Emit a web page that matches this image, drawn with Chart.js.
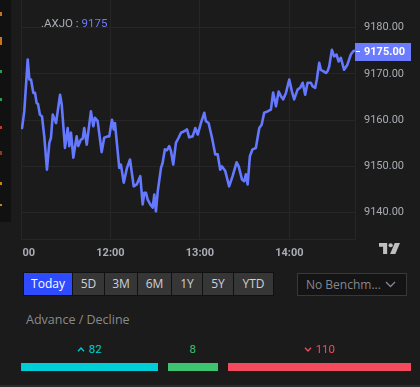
<!DOCTYPE html>
<html>
<head>
<meta charset="utf-8">
<script src="https://cdn.jsdelivr.net/npm/chart.js@4"></script>
<style>
  html, body { margin:0; padding:0; background:#1b1b1b; width:420px; height:387px; overflow:hidden; font-family:"Open Sans", Roboto, sans-serif; }
  #wrap { position:relative; width:420px; height:387px; }
  #cv { position:absolute; left:0; top:0; }
  .abs { position:absolute; }
  #strip { left:0; top:0; width:11px; height:222px; background:#111111; }
  .mk { position:absolute; left:0; width:2px; }
  #clipL { left:0; top:240px; width:22px; height:28px; background:#1b1b1b; }
  #title { left:41px; top:16px; font:11.5px Roboto, sans-serif; color:#a9acb4; white-space:nowrap; }
  #title span { color:#6b7cff; }
  #btns { left:23px; top:272px; height:24px; display:flex; background:#111; padding:1px; box-sizing:border-box; gap:1px; }
  #btns div { height:22px; line-height:22px; text-align:center; background:#363636; color:#cfd1d6; font-size:12px; }
  #btns div.on { background:#2f4bff; color:#fff; }
  #dd { left:297px; top:273px; width:110px; height:23px; border:1px solid #383838; background:#141414; box-sizing:border-box; color:#84878f; font-size:12px; line-height:21px; padding-left:8px; }
  #dd svg { position:absolute; right:10px; top:7px; }
  #adl { left:26px; top:311px; color:#8a8a8a; font-size:12.5px; }
  #bars { left:21px; top:342px; width:390px; display:flex; gap:10px; }
  .seg { display:flex; flex-direction:column; align-items:center; }
  .lab { height:14px; font:11.5px Roboto, sans-serif; line-height:14px; margin-bottom:7px; white-space:nowrap; display:flex; align-items:center; gap:4px; }
  .bar { height:8px; width:100%; }
  #logo { left:379px; top:243px; }
  #bot { left:0; top:385px; width:420px; height:2px; background:#2b2b2b; }
</style>
</head>
<body>
<div id="wrap">
  <canvas id="cv" width="420" height="270"></canvas>
  <div id="strip" class="abs">
    <div class="mk" style="top:12px;height:4px;background:#c8761a"></div>
    <div class="mk" style="top:37px;height:8px;background:#c8761a"></div>
    <div class="mk" style="top:70px;height:3px;background:#22a05a"></div>
    <div class="mk" style="top:98px;height:3px;background:#22a05a"></div>
    <div class="mk" style="top:126px;height:3px;background:#d0302f"></div>
    <div class="mk" style="top:151px;height:4px;background:#8a3a20"></div>
    <div class="mk" style="top:182px;height:3px;background:#c8861a"></div>
    <div class="mk" style="top:204px;height:2px;background:#c8861a"></div>
  </div>
  <div id="clipL" class="abs"></div>
  <div id="title" class="abs">.AXJO : <span id="tval"></span></div>
  <svg id="logo" class="abs" width="21" height="11" viewBox="0 0 36 20" preserveAspectRatio="none">
    <path d="M0 0h14v20H7V7H0z" fill="#bfbfbf"/>
    <circle cx="20" cy="4" r="3.6" fill="#bfbfbf"/>
    <path d="M27 0h9l-8 20h-9z" fill="#bfbfbf"/>
  </svg>
  <div id="btns" class="abs"></div>
  <div id="dd" class="abs">No Benchm...
    <svg width="11" height="7" viewBox="0 0 11 7"><polyline points="1,1 5.5,5.5 10,1" fill="none" stroke="#84878f" stroke-width="1.3"/></svg>
  </div>
  <div id="adl" class="abs">Advance / Decline</div>
  <div id="bars" class="abs"></div>
  <div id="bot" class="abs"></div>
</div>
<script>
// ---- data ----
const symbol = ".AXJO";
// minutes since midnight (11:00 = 660)
const times = [660.7, 662.2, 664.5, 665.6, 666.7, 668.3, 669.4, 670.5, 671.4, 672.7, 674.1, 675.6, 677.4, 679.0, 680.1, 681.3, 683.5, 686.2, 687.3, 689.5,
  691.3, 692.4, 693.5, 695.1, 697.3, 698.4, 700.2, 701.4, 702.4, 704.1, 706.9, 708.5, 709.6, 711.4, 714.1, 715.8, 718.1, 719.2, 721.0, 722.2,
  723.0, 725.9, 727.0, 728.9, 731.1, 733.1, 735.6, 737.6, 740.0, 741.6, 742.7, 743.8, 744.9, 746.7, 748.3, 749.4, 750.5, 751.7, 753.9, 755.0,
  756.5, 757.9, 759.4, 760.6, 762.1, 763.9, 765.7, 767.3, 769.5, 771.3, 772.8, 775.1, 776.9, 778.5, 780.7, 782.9, 784.0, 785.8, 788.1, 790.3,
  791.9, 793.6, 794.8, 797.0, 799.6, 801.9, 804.6, 806.0, 808.2, 809.7, 810.8, 812.0, 813.5, 815.3, 817.5, 819.8, 821.4, 823.1, 825.4, 827.6,
  829.1, 831.0, 832.8, 834.3, 835.8, 837.7, 839.9, 841.7, 843.2, 845.5, 847.2, 848.9, 850.6, 852.2, 854.4, 855.6, 857.3, 858.4, 860.0, 861.1,
  862.7, 864.5, 865.6, 866.7, 868.5, 870.0, 871.6, 873.0, 874.5, 876.7, 878.9, 881.2, 882.8, 883.6];
const prices = [9158.3, 9161.9, 9173.1, 9168.8, 9168.8, 9165.9, 9165.9, 9163.7, 9163.5, 9161.2, 9160.8, 9156.5, 9149.3, 9155.1, 9156.2, 9161.2, 9159.4, 9165.5, 9163.4, 9154.0,
  9158.3, 9154.4, 9157.3, 9151.9, 9156.5, 9154.4, 9155.8, 9156.0, 9158.3, 9154.7, 9161.9, 9158.7, 9160.5, 9159.8, 9153.1, 9156.2, 9156.5, 9156.5, 9160.1, 9158.0,
  9159.4, 9149.7, 9150.4, 9146.5, 9149.7, 9151.5, 9145.7, 9146.1, 9147.9, 9141.8, 9144.3, 9144.3, 9142.9, 9141.8, 9141.1, 9143.9, 9140.3, 9144.6, 9149.7, 9150.8,
  9153.7, 9153.5, 9154.4, 9153.3, 9150.4, 9155.1, 9156.2, 9157.3, 9157.6, 9158.0, 9156.3, 9156.5, 9158.3, 9156.9, 9159.4, 9161.6, 9159.8, 9159.4, 9156.2, 9152.6,
  9152.6, 9149.3, 9150.0, 9149.0, 9145.7, 9147.9, 9150.9, 9150.0, 9147.2, 9146.8, 9148.3, 9146.1, 9152.2, 9153.7, 9154.0, 9158.3, 9159.0, 9161.6, 9161.9, 9162.3,
  9166.0, 9163.0, 9166.2, 9165.2, 9164.5, 9165.9, 9168.8, 9166.2, 9164.5, 9166.6, 9167.0, 9168.1, 9165.5, 9168.1, 9168.1, 9167.3, 9167.0, 9168.8, 9172.4, 9170.9,
  9170.6, 9170.2, 9170.6, 9171.6, 9175.2, 9173.8, 9174.2, 9172.7, 9173.5, 9170.9, 9172.0, 9174.2, 9174.9, 9175.0];
const lastPrice = 9175;
const yTicks = [9140, 9150, 9160, 9170, 9180];
const xTicks = [660, 720, 780, 840];           // 11:00 .. 14:00
const ranges = ["Today", "5D", "3M", "6M", "1Y", "5Y", "YTD"];
const adLabels = ["advance", "unchanged", "decline"];
const adValues = [82, 8, 110];
const adColors = ["#00ced6", "#3cc471", "#f34a5e"];

// ---- UI ----
document.getElementById('tval').textContent = String(lastPrice);
const btnW = [48, 31, 32, 33, 30, 30, 39];
const btns = document.getElementById('btns');
ranges.forEach((r, i) => {
  const d = document.createElement('div');
  d.textContent = r; d.style.width = btnW[i] + 'px';
  if (i === 0) d.className = 'on';
  btns.appendChild(d);
});
const bars = document.getElementById('bars');
adValues.forEach((v, i) => {
  const s = document.createElement('div');
  s.className = 'seg';
  s.style.flex = v + ' 1 0px';
  s.style.minWidth = '50px';
  const l = document.createElement('div');
  l.className = 'lab'; l.style.color = adColors[i];
  let arrow = '';
  if (i === 0) arrow = '<svg width="8" height="5" viewBox="0 0 8 5"><polyline points="1,4.2 4,1 7,4.2" fill="none" stroke="' + adColors[i] + '" stroke-width="1.3"/></svg>';
  if (i === 2) arrow = '<svg width="8" height="5" viewBox="0 0 8 5"><polyline points="1,0.8 4,4 7,0.8" fill="none" stroke="' + adColors[i] + '" stroke-width="1.3"/></svg>';
  l.innerHTML = arrow + '<span>' + v + '</span>';
  const b = document.createElement('div');
  b.className = 'bar'; b.style.background = adColors[i];
  s.appendChild(l); s.appendChild(b);
  bars.appendChild(s);
});

// ---- chart ----
const lineColor = '#6479ff';
const priceTag = {
  id: 'priceTag',
  afterDraw(chart) {
    const y = chart.scales.y.getPixelForValue(lastPrice);
    const ctx = chart.ctx, x0 = chart.chartArea.right;
    ctx.save();
    ctx.fillStyle = '#6b7cff';
    ctx.fillRect(x0, Math.round(y) - 8, 56, 18);
    ctx.fillStyle = '#ffffff';
    ctx.fillRect(x0 + 1, Math.round(y), 4, 1);
    ctx.font = 'bold 11px Roboto, sans-serif';
    ctx.textBaseline = 'middle';
    ctx.fillText(lastPrice.toFixed(2), x0 + 9, Math.round(y) + 1.5);
    ctx.restore();
  }
};
function hhmm(m) { const h = Math.floor(m / 60), mm = Math.round(m % 60); return String(h).padStart(2, '0') + ':' + String(mm).padStart(2, '0'); }

new Chart(document.getElementById('cv'), {
  type: 'line',
  data: {
    datasets: [{
      label: symbol,
      data: times.map((t, i) => ({ x: t, y: prices[i] })),
      borderColor: lineColor,
      borderWidth: 2.6,
      borderJoinStyle: 'round',
      borderCapStyle: 'round',
      pointRadius: 0,
      tension: 0,
      fill: false
    }]
  },
  options: {
    responsive: false,
    animation: false,
    events: [],
    layout: { padding: { left: 21, top: 0, right: 0, bottom: 0 } },
    plugins: { legend: { display: false }, tooltip: { enabled: false } },
    scales: {
      x: {
        type: 'linear', min: 660, max: 884,
        afterBuildTicks: s => { s.ticks = xTicks.map(v => ({ value: v })); },
        afterFit: s => { s.height = 31; s.paddingLeft = 0; s.paddingRight = 0; },
        grid: { color: '#262626', drawTicks: false },
        border: { color: '#262626' },
        ticks: { color: '#a9acb4', padding: 8, maxRotation: 0, font: { family: 'Roboto', size: 11, weight: 'bold' }, callback: v => hhmm(v) }
      },
      y: {
        position: 'right', min: 9134.31, max: 9185.99,
        afterBuildTicks: s => { s.ticks = yTicks.map(v => ({ value: v })); },
        afterFit: s => { s.width = 65; s.paddingTop = 0; s.paddingBottom = 0; },
        grid: { color: '#262626', drawTicks: false },
        border: { color: '#262626' },
        ticks: { color: '#a9acb4', padding: 9, font: { family: 'Roboto', size: 11 }, callback: v => Number(v).toFixed(2) }
      }
    }
  },
  plugins: [priceTag]
});
</script>
</body>
</html>
